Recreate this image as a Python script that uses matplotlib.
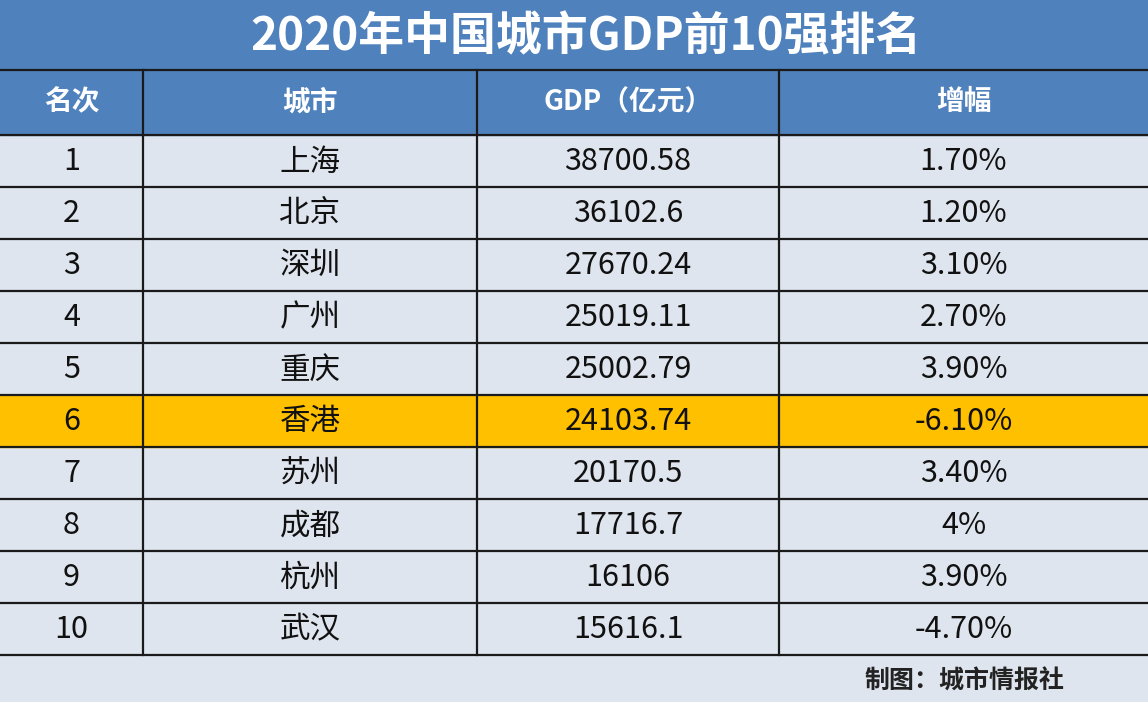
import matplotlib.pyplot as plt
from matplotlib.patches import Rectangle

plt.rcParams['font.family'] = 'Noto Sans CJK SC'

title = "2020年中国城市GDP前10强排名"
headers = ["名次", "城市", "GDP（亿元）", "增幅"]
ranks = ["1", "2", "3", "4", "5", "6", "7", "8", "9", "10"]
cities = ["上海", "北京", "深圳", "广州", "重庆", "香港", "苏州", "成都", "杭州", "武汉"]
gdp = ["38700.58", "36102.6", "27670.24", "25019.11", "25002.79",
       "24103.74", "20170.5", "17716.7", "16106", "15616.1"]
growth = ["1.70%", "1.20%", "3.10%", "2.70%", "3.90%",
          "-6.10%", "3.40%", "4%", "3.90%", "-4.70%"]
highlight = "香港"
credit = "制图：城市情报社"

W, H = 1148, 702
col_x = [0, 143, 477, 779, 1148]
title_h = 70
head_h = 65
row_h = 52
blue = "#4f81bd"
light = "#dfe5ee"

fig = plt.figure(figsize=(W / 100, H / 100), dpi=100)
ax = fig.add_axes([0, 0, 1, 1])
ax.set_xlim(0, W)
ax.set_ylim(H, 0)
ax.axis('off')

ax.add_patch(Rectangle((0, 0), W, H, color=light))
ax.add_patch(Rectangle((0, 0), W, title_h, color=blue))
ax.text(W / 2 + 12, title_h / 2 + 2, title, color="white", fontsize=33, fontweight="bold",
        ha="center", va="center")

y0 = title_h
ax.add_patch(Rectangle((0, y0), W, head_h, color=blue))
for i, h in enumerate(headers):
    ax.text((col_x[i] + col_x[i + 1]) / 2, y0 + head_h / 2, h, color="white",
            fontsize=20, fontweight="bold", ha="center", va="center")

top = y0 + head_h
for r in range(len(ranks)):
    y = top + r * row_h
    if cities[r] == highlight:
        ax.add_patch(Rectangle((0, y), W, row_h, color="#ffc000"))
    vals = [ranks[r], cities[r], gdp[r], growth[r]]
    for i, v in enumerate(vals):
        ax.text((col_x[i] + col_x[i + 1]) / 2, y + row_h / 2 + 1, v, color="#111111",
                fontsize=22, ha="center", va="center")

bottom = top + len(ranks) * row_h
lw = 1.6
ax.plot([0, W], [y0, y0], color="#1a1a1a", lw=lw)
for r in range(len(ranks) + 1):
    y = top + r * row_h
    ax.plot([0, W], [y, y], color="#1a1a1a", lw=lw)
for x in col_x[1:-1]:
    ax.plot([x, x], [y0, bottom], color="#1a1a1a", lw=lw)

ax.text(1065, 682, credit, color="#222222", fontsize=18, fontweight="bold",
        ha="right", va="center")

fig.savefig("out.png", dpi=100)
